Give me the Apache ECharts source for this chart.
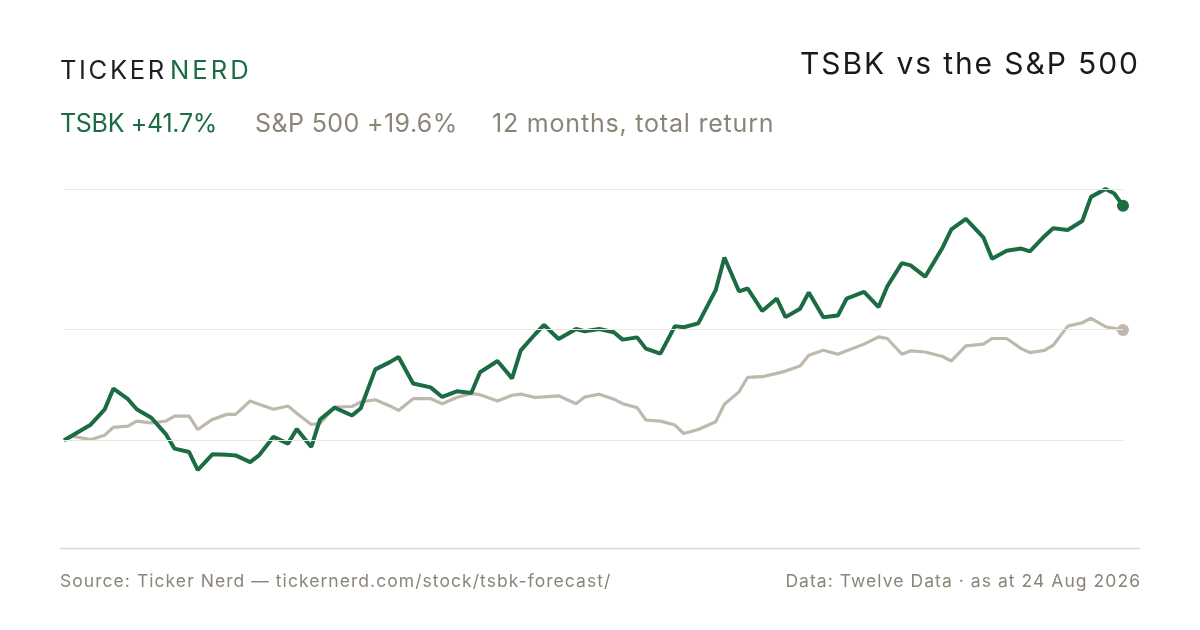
<!DOCTYPE html>
<html>
<head>
<meta charset="utf-8">
<title>TSBK vs the S&amp;P 500</title>
<script src="https://cdn.jsdelivr.net/npm/echarts@6/dist/echarts.min.js"></script>
<style>
  html, body { margin: 0; padding: 0; background: #ffffff; }
  #page { position: relative; width: 1200px; height: 630px; overflow: hidden; }
  #chart { position: absolute; left: 0; top: 0; width: 1200px; height: 630px; }
  .t {
    position: absolute;
    white-space: nowrap;
    font-family: Inter, "Noto Sans", sans-serif;
    font-weight: 400;
    line-height: 1;
  }
  .logo { top: 57.2px; font-size: 25.6px; }
  .ink { color: #1f1f1f; left: 60px; letter-spacing: 2.6px; }
  .brand { color: #1b6b43; left: 170px; letter-spacing: 3px; }
  .title { top: 48.3px; right: 60.1px; font-size: 30px; color: #1a1a1a; letter-spacing: 1.9px; }
  .legend { top: 111.4px; font-size: 25px; }
  .lg-tsbk { left: 60px; color: #1b6b43; letter-spacing: -0.3px; }
  .lg-spx { left: 255px; color: #8b8578; letter-spacing: 0.4px; }
  .lg-note { left: 492px; color: #8b8578; letter-spacing: 0.8px; }
  .foot { top: 571.9px; font-size: 17.5px; color: #8b8578; letter-spacing: 1.05px; }
  .foot-l { left: 60px; }
  .foot-r { right: 58.95px; }
</style>
</head>
<body>
<div id="page">
  <div id="chart"></div>
  <div class="t logo ink">TICKER</div>
  <div class="t logo brand">NERD</div>
  <div class="t title">TSBK vs the S&amp;P 500</div>
  <div class="t legend lg-tsbk" id="lg-tsbk"></div>
  <div class="t legend lg-spx" id="lg-spx"></div>
  <div class="t legend lg-note">12 months, total return</div>
  <div class="t foot foot-l">Source: Ticker Nerd — tickernerd.com/stock/tsbk-forecast/</div>
  <div class="t foot foot-r">Data: Twelve Data · as at 24 Aug 2026</div>
</div>
<script>
// every third trading day, last session appended
const dates = [
  '2025-08-25', '2025-08-28', '2025-09-03', '2025-09-08', '2025-09-11', '2025-09-16', '2025-09-19',
  '2025-09-24', '2025-09-29', '2025-10-02', '2025-10-07', '2025-10-10', '2025-10-15', '2025-10-20',
  '2025-10-23', '2025-10-28', '2025-10-31', '2025-11-05', '2025-11-10', '2025-11-13', '2025-11-18',
  '2025-11-21', '2025-11-26', '2025-12-02', '2025-12-05', '2025-12-10', '2025-12-15', '2025-12-18',
  '2025-12-23', '2025-12-29', '2026-01-02', '2026-01-07', '2026-01-12', '2026-01-15', '2026-01-21',
  '2026-01-26', '2026-01-29', '2026-02-03', '2026-02-06', '2026-02-11', '2026-02-17', '2026-02-20',
  '2026-02-25', '2026-03-02', '2026-03-05', '2026-03-10', '2026-03-13', '2026-03-18', '2026-03-23',
  '2026-03-26', '2026-03-31', '2026-04-06', '2026-04-09', '2026-04-14', '2026-04-17', '2026-04-22',
  '2026-04-27', '2026-04-30', '2026-05-05', '2026-05-08', '2026-05-13', '2026-05-18', '2026-05-21',
  '2026-05-27', '2026-06-01', '2026-06-04', '2026-06-09', '2026-06-12', '2026-06-17', '2026-06-23',
  '2026-06-26', '2026-07-01', '2026-07-07', '2026-07-10', '2026-07-15', '2026-07-20', '2026-07-23',
  '2026-07-28', '2026-07-31', '2026-08-05', '2026-08-10', '2026-08-13', '2026-08-18', '2026-08-21',
  '2026-08-24'
];

// cumulative total return, %
const tsbkReturn = [
  0, 0.9, 2.7, 5.5, 9.2, 7.3, 5.5, 4.0, 1.1, -1.5,
  -2.1, -5.3, -2.5, -2.6, -2.7, -3.9, -2.7, 0.6, -0.6, 2.0,
  -1.2, 3.7, 5.8, 4.4, 5.7, 12.6, 13.9, 14.8, 10.1, 9.4,
  7.7, 8.7, 8.4, 12.1, 14.1, 11.0, 16.0, 18.9, 20.5, 18.0,
  19.8, 19.4, 19.8, 19.2, 17.9, 18.3, 16.3, 15.4, 20.3, 20.1,
  20.8, 26.7, 32.5, 26.5, 27.0, 23.0, 25.2, 21.9, 23.4, 26.3,
  21.9, 22.2, 25.2, 26.4, 23.7, 27.4, 31.5, 31.1, 29.1, 34.3,
  37.5, 39.4, 36.1, 32.3, 33.7, 34.1, 33.6, 36.3, 37.7, 37.4,
  39.0, 43.3, 44.7, 43.9, 41.7
];

const spxReturn = [
  0, 0.7, 0.1, 0.9, 2.3, 2.5, 3.4, 3.1, 3.4, 4.3,
  4.3, 1.9, 3.7, 4.6, 4.6, 7.0, 6.4, 5.5, 6.1, 4.8,
  2.8, 3.0, 5.9, 6.0, 6.8, 7.2, 6.1, 5.3, 7.4, 7.4,
  6.5, 7.6, 8.3, 8.1, 7.0, 8.0, 8.2, 7.6, 7.7, 7.9,
  6.5, 7.7, 8.2, 7.3, 6.5, 5.8, 3.6, 3.4, 2.7, 1.2,
  1.9, 3.3, 6.4, 8.6, 11.2, 11.3, 11.9, 12.3, 13.2, 15.1,
  16.0, 15.3, 15.9, 17.1, 18.4, 18.1, 15.3, 15.9, 15.7, 14.9,
  14.1, 16.8, 17.1, 18.1, 18.1, 16.3, 15.6, 16.0, 16.9, 20.3,
  20.9, 21.7, 20.2, 19.9, 19.6
];

const gridValues = [0, 19.7, 44.7];

const green = '#1b6b43';
const sand = '#bfb8ad';

const last = dates.length - 1;
const toTime = d => new Date(d + 'T00:00:00').getTime();

function pairs (values) {
  return dates.map((d, i) => [toTime(d), values[i]]);
}

function endDot (value, params) {
  return params.dataIndex === last ? 12 : 0;
}

function signed (v) {
  return (v >= 0 ? '+' : '') + v.toFixed(1) + '%';
}

document.getElementById('lg-tsbk').textContent = 'TSBK ' + signed(tsbkReturn[last]);
document.getElementById('lg-spx').textContent = 'S&P 500 ' + signed(spxReturn[last]);

const chart = echarts.init(document.getElementById('chart'));

chart.setOption({
  animation: false,
  backgroundColor: 'transparent',
  grid: { left: 64, right: 77, top: 189, bottom: 81.3 },
  xAxis: {
    type: 'time',
    min: toTime(dates[0]),
    max: toTime(dates[last]),
    show: false
  },
  yAxis: {
    type: 'value',
    min: -19.3,
    max: 44.7,
    show: false
  },
  series: [
    {
      name: 'S&P 500',
      type: 'line',
      data: pairs(spxReturn),
      showAllSymbol: true,
      symbol: 'circle',
      symbolSize: endDot,
      itemStyle: { color: sand },
      lineStyle: { color: sand, width: 3.2 },
      z: 2,
      markLine: {
        silent: true,
        symbol: 'none',
        label: { show: false },
        lineStyle: { color: '#ebe7e0', width: 1.2, type: 'solid' },
        data: gridValues.map(v => ({ yAxis: v }))
      }
    },
    {
      name: 'TSBK',
      type: 'line',
      data: pairs(tsbkReturn),
      showAllSymbol: true,
      symbol: 'circle',
      symbolSize: endDot,
      itemStyle: { color: green },
      lineStyle: { color: green, width: 4 },
      z: 3
    }
  ],
  graphic: [
    {
      type: 'line',
      shape: { x1: 60, y1: 548.5, x2: 1140, y2: 548.5 },
      style: { stroke: '#dcd7cc', lineWidth: 1.5 },
      silent: true
    }
  ]
});
</script>
</body>
</html>
